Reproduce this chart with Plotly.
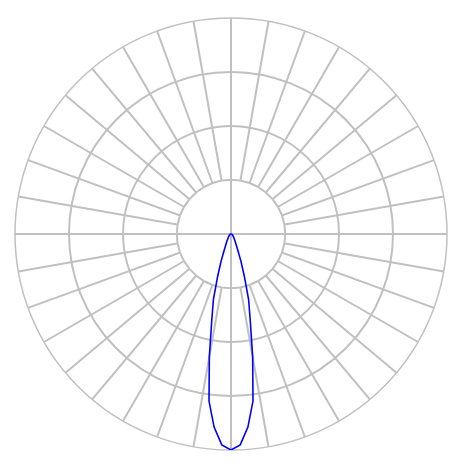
import numpy as np
import plotly.graph_objects as go

# luminous intensity curve, half of a symmetric beam (gamma from nadir, degrees)
gamma = [0, 2.5, 5, 7.5, 10, 12.5, 15, 17.5, 20, 22.5, 25, 30, 35, 40, 50, 60, 70, 80, 90]
intensity = [4000, 3910, 3590, 3120, 2310, 1650, 1260, 820, 540, 340, 240, 150, 100, 75, 45, 28, 18, 8, 0]
ring_values = [1000, 2000, 3000, 4000]

grid_color = "#c0c0c0"
grid_width = 1.5

# mirror the half curve so it goes from one side of the beam to the other
theta = [-g for g in gamma[::-1]] + gamma[1:]
r = intensity[::-1] + intensity[1:]

fig = go.Figure()

# white cover over the inner ring so the 10 degree spokes start at the first ring
cover_theta = np.arange(0, 361, 10)
fig.add_trace(go.Scatterpolar(
    r=[ring_values[0]] * len(cover_theta), theta=cover_theta,
    mode="lines", fill="toself", fillcolor="white",
    line=dict(color=grid_color, width=grid_width),
    hoverinfo="skip", subplot="polar"))

fig.add_trace(go.Scatterpolar(
    r=r, theta=theta, mode="lines",
    line=dict(color="#0000ff", width=1.6),
    subplot="polar2"))

angular_common = dict(rotation=-90, direction="counterclockwise",
                      showticklabels=False, ticks="")
radial_common = dict(range=[0, ring_values[-1]], showticklabels=False,
                     ticks="", showline=False)
full = dict(x=[0, 1], y=[0, 1])

fig.update_layout(
    width=465, height=465,
    # page body adds ~8px offset, so the margins are shifted to compensate
    margin=dict(l=7, r=26, t=10, b=23),
    paper_bgcolor="white",
    showlegend=False,
    polar=dict(
        domain=full,
        gridshape="linear",
        bgcolor="white",
        angularaxis=dict(angular_common, dtick=10, showgrid=True,
                         gridcolor=grid_color, gridwidth=grid_width,
                         showline=True, linecolor=grid_color, linewidth=grid_width),
        radialaxis=dict(radial_common, tickvals=ring_values[:-1], showgrid=True,
                        gridcolor=grid_color, gridwidth=grid_width),
    ),
    polar2=dict(
        domain=full,
        bgcolor="rgba(0,0,0,0)",
        angularaxis=dict(angular_common, dtick=90, showgrid=True,
                         gridcolor=grid_color, gridwidth=grid_width,
                         showline=False),
        radialaxis=dict(radial_common, showgrid=False),
    ),
)

fig.write_html("out.html")
